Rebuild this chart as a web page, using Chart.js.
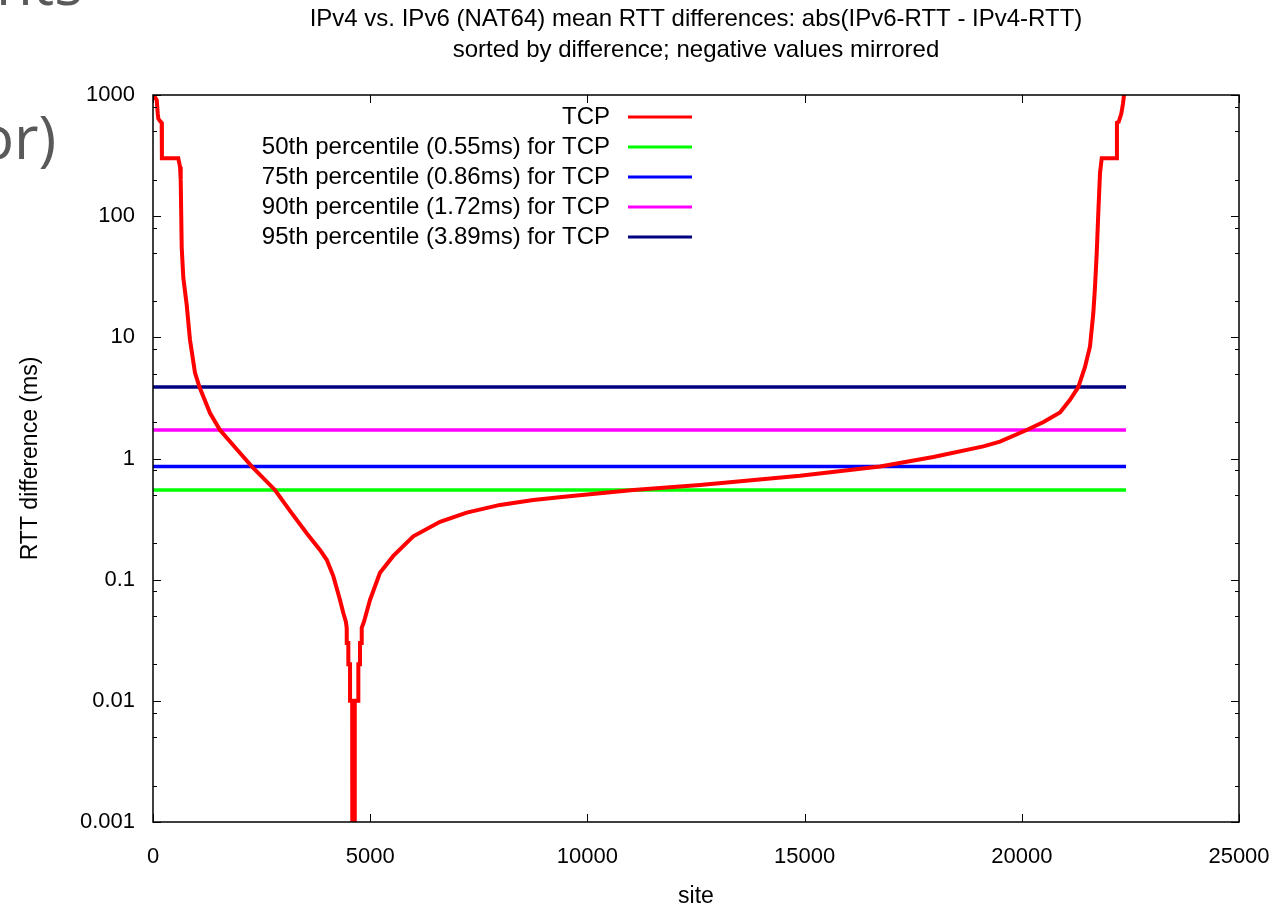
<!DOCTYPE html>
<html>
<head>
<meta charset="utf-8">
<title>IPv4 vs. IPv6 (NAT64) mean RTT differences</title>
<script src="https://cdn.jsdelivr.net/npm/chart.js@4.4.1/dist/chart.umd.min.js"></script>
<style>
  html, body { margin: 0; padding: 0; background: #fff; }
  #wrap { position: relative; width: 1281px; height: 908px; overflow: hidden; background: #fff; }
  #chart { display: block; }
  .slide { position: absolute; font-family: 'Open Sans', sans-serif; font-size: 60px; line-height: 60px; color: #595959; white-space: nowrap; }
</style>
</head>
<body>
<div id="wrap">
  <canvas id="chart" width="1281" height="908"></canvas>
  <div class="slide" style="left:-4px; top:-48px;">nts</div>
  <div class="slide" style="left:-22px; top:106px;">or)</div>
</div>
<script>
// Sorted sites (x) and their RTT difference in ms (y).
// Zero differences sit below the log axis, so they are given as 0.0001.
const sites = [
    0, 23, 50, 85, 110, 122, 160, 200, 205, 582,
    622, 638, 661, 698, 776, 852, 967, 1070, 1312, 1542,
    2003, 2272, 2808, 3154, 3538, 3844, 3999, 4151, 4305, 4381,
    4440, 4459, 4460, 4496, 4497, 4535, 4536, 4585, 4590, 4640,
    4645, 4726, 4727, 4765, 4766, 4804, 4805, 4857, 4995, 5225,
    5532, 5992, 6607, 7222, 7988, 8755, 9523, 10290, 11057, 12592,
    14894, 16736, 17963, 19114, 19498, 20113, 20500, 20880, 21110, 21300,
    21455, 21570, 21646, 21685, 21724, 21761, 21800, 21840, 22185, 22190,
    22230, 22290, 22330, 22353, 22400
];
const rttDiff = [
    1100, 1000, 950, 910, 700, 640, 610, 590, 300, 300,
    256, 199, 55, 31, 18.5, 9.5, 5.1, 3.89, 2.37, 1.72,
    1.11, 0.86, 0.55, 0.37, 0.242, 0.176, 0.146, 0.107, 0.068, 0.053,
    0.045, 0.04, 0.03, 0.03, 0.02, 0.02, 0.01, 0.01, 0.0001, 0.0001,
    0.01, 0.01, 0.02, 0.02, 0.03, 0.03, 0.04, 0.045, 0.068, 0.114,
    0.157, 0.228, 0.30, 0.358, 0.414, 0.455, 0.485, 0.516, 0.55, 0.605,
    0.72, 0.86, 1.03, 1.26, 1.38, 1.72, 2.0, 2.4, 3.05, 3.89,
    5.7, 8.4, 15.8, 26, 49, 106, 226, 300, 300, 590,
    600, 700, 850, 1000, 1400
];

const percentileLabels = [
    '50th percentile (0.55ms) for TCP',
    '75th percentile (0.86ms) for TCP',
    '90th percentile (1.72ms) for TCP',
    '95th percentile (3.89ms) for TCP'
];
const percentileValues = [0.55, 0.86, 1.72, 3.89];
const siteRange = [0, 22400];

const xTickValues = [0, 5000, 10000, 15000, 20000, 25000];
const xTickLabels = ['0', '5000', '10000', '15000', '20000', '25000'];
const yTickValues = [0.001, 0.01, 0.1, 1, 10, 100, 1000];
const yTickLabels = ['0.001', '0.01', '0.1', '1', '10', '100', '1000'];
const yMinorSteps = [2, 5, 8];

const FONT = "'Liberation Sans', Arial, sans-serif";
const lineColors = ['#00ff00', '#0000ff', '#ff00ff', '#000080'];

// Gnuplot style frame with inward ticks on all four sides
const frameTicks = {
    id: 'frameTicks',
    afterDatasetsDraw(chart) {
        const { ctx, chartArea: a, scales: { x, y } } = chart;
        ctx.save();
        ctx.strokeStyle = '#000';
        ctx.lineWidth = 1;
        ctx.beginPath();
        xTickValues.forEach(v => {
            const px = Math.round(x.getPixelForValue(v)) + 0.5;
            ctx.moveTo(px, a.bottom); ctx.lineTo(px, a.bottom - 8);
            ctx.moveTo(px, a.top); ctx.lineTo(px, a.top + 8);
        });
        yTickValues.forEach((v, i) => {
            const py = Math.round(y.getPixelForValue(v)) + 0.5;
            ctx.moveTo(a.left, py); ctx.lineTo(a.left + 8, py);
            ctx.moveTo(a.right, py); ctx.lineTo(a.right - 8, py);
            if (i < yTickValues.length - 1) {
                yMinorSteps.forEach(m => {
                    const pm = Math.round(y.getPixelForValue(v * m)) + 0.5;
                    ctx.moveTo(a.left, pm); ctx.lineTo(a.left + 4, pm);
                    ctx.moveTo(a.right, pm); ctx.lineTo(a.right - 4, pm);
                });
            }
        });
        ctx.stroke();
        ctx.lineWidth = 1.5;
        ctx.strokeRect(a.left, a.top, a.right - a.left, a.bottom - a.top);
        ctx.restore();
    }
};

// Key in the top of the plot: text right aligned, sample line after it
const keyBox = {
    id: 'keyBox',
    afterDraw(chart) {
        const { ctx, chartArea: a } = chart;
        const textRight = a.left + 457;
        const lineStart = a.left + 475;
        const lineEnd = a.left + 539;
        ctx.save();
        ctx.font = '24px ' + FONT;
        ctx.textAlign = 'right';
        ctx.textBaseline = 'middle';
        chart.data.datasets.forEach((ds, i) => {
            const yy = a.top + 22 + i * 30;
            ctx.fillStyle = '#000';
            ctx.fillText(ds.label, textRight, yy);
            ctx.strokeStyle = ds.borderColor;
            ctx.lineWidth = 3;
            ctx.beginPath();
            ctx.moveTo(lineStart, yy);
            ctx.lineTo(lineEnd, yy);
            ctx.stroke();
        });
        ctx.restore();
    }
};

function buildDatasets() {
    const datasets = [{
        label: 'TCP',
        data: sites.map((s, i) => ({ x: s, y: rttDiff[i] })),
        borderColor: '#ff0000',
        borderWidth: 4
    }];
    percentileValues.forEach((v, i) => {
        datasets.push({
            label: percentileLabels[i],
            data: siteRange.map(s => ({ x: s, y: v })),
            borderColor: lineColors[i],
            borderWidth: 3.5
        });
    });
    return datasets;
}

function createChart() {
    const ctx = document.getElementById('chart').getContext('2d');
    new Chart(ctx, {
        type: 'line',
        data: { datasets: buildDatasets() },
        plugins: [frameTicks, keyBox],
        options: {
            responsive: false,
            animation: false,
            devicePixelRatio: 1,
            layout: { padding: { left: 10, right: 42, top: 0, bottom: 0 } },
            elements: {
                point: { radius: 0, hoverRadius: 0 },
                line: { tension: 0, fill: false }
            },
            plugins: {
                legend: { display: false },
                tooltip: { enabled: false },
                title: {
                    display: true,
                    fullSize: false,
                    text: [
                        'IPv4 vs. IPv6 (NAT64) mean RTT differences: abs(IPv6-RTT - IPv4-RTT)',
                        'sorted by difference; negative values mirrored'
                    ],
                    color: '#000',
                    font: { family: FONT, size: 24, weight: 'normal', lineHeight: 1.3 },
                    padding: { top: 4, bottom: 28.6 }
                }
            },
            scales: {
                x: {
                    type: 'linear',
                    min: 0,
                    max: 25000,
                    afterFit: s => { s.height = 86; s.paddingLeft = 0; s.paddingRight = 0; },
                    afterBuildTicks: s => { s.ticks = xTickValues.map(v => ({ value: v })); },
                    grid: { display: false, drawTicks: false },
                    border: { display: false },
                    ticks: {
                        color: '#000',
                        padding: 22,
                        maxRotation: 0,
                        font: { family: FONT, size: 22 },
                        callback: (v, i) => xTickLabels[i]
                    },
                    title: {
                        display: true,
                        text: 'site',
                        color: '#000',
                        font: { family: FONT, size: 23, lineHeight: 1 },
                        padding: 0
                    }
                },
                y: {
                    type: 'logarithmic',
                    min: 0.001,
                    max: 1000,
                    afterFit: s => { s.width = 143; },
                    afterBuildTicks: s => { s.ticks = yTickValues.map(v => ({ value: v })); },
                    grid: { display: false, drawTicks: false },
                    border: { display: false },
                    ticks: {
                        color: '#000',
                        padding: 18,
                        font: { family: FONT, size: 22 },
                        callback: (v, i) => yTickLabels[i]
                    },
                    title: {
                        display: true,
                        text: 'RTT difference (ms)',
                        color: '#000',
                        font: { family: FONT, size: 23, lineHeight: 1.2 },
                        padding: { top: 7, bottom: 0 }
                    }
                }
            }
        }
    });
}

document.addEventListener('DOMContentLoaded', createChart);
</script>
</body>
</html>
